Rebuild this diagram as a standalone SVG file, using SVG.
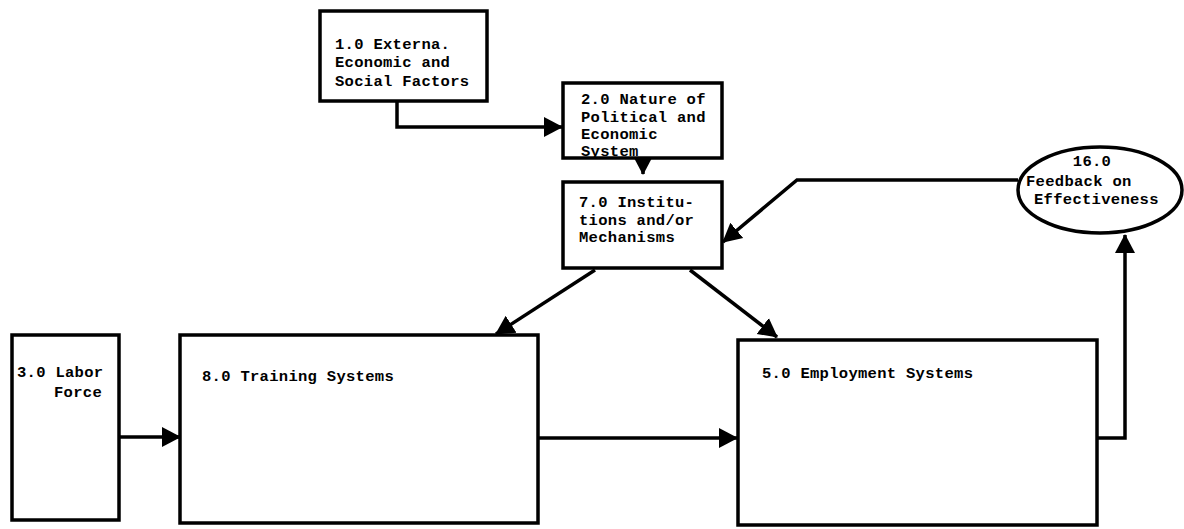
<svg xmlns="http://www.w3.org/2000/svg" width="1184" height="529" viewBox="0 0 1184 529">
<style>
.box{fill:#fff;stroke:#000;stroke-width:3.5}
.t{font-family:"Liberation Mono","DejaVu Sans Mono",monospace;font-weight:bold;font-size:15.5px;letter-spacing:0.3px;fill:#000}
.c{fill:none;stroke:#000;stroke-width:3.5;stroke-linejoin:miter}
</style>
<defs>
<marker id="ah" markerUnits="userSpaceOnUse" markerWidth="22" markerHeight="24" refX="18" refY="11" orient="auto">
<path d="M0,1 L19,11 L0,21 Z" fill="#000"/>
</marker>
</defs>
<rect width="1184" height="529" fill="#fff"/>
<g id="connectors">
<path class="c" d="M397,101 V127 H562" marker-end="url(#ah)"/>
<path class="c" d="M643,158 V174" marker-end="url(#ah)"/>
<path class="c" d="M1018,180 H797 L723,242" marker-end="url(#ah)"/>
<path class="c" d="M595,270 L496,334" marker-end="url(#ah)"/>
<path class="c" d="M690,270 L777,337" marker-end="url(#ah)"/>
<path class="c" d="M119,437 H180" marker-end="url(#ah)"/>
<path class="c" d="M538,438 H737" marker-end="url(#ah)"/>
<path class="c" d="M1096,438 H1125 V235" marker-end="url(#ah)"/>
</g>
<g id="n1">
<rect class="box" x="320" y="11" width="167" height="90"/>
<text class="t" x="335" y="49">1.0 Externa.</text>
<text class="t" x="335" y="67">Economic and</text>
<text class="t" x="335" y="86">Social Factors</text>
</g>
<g id="n2">
<rect class="box" x="563" y="83" width="159" height="75"/>
<text class="t" x="581" y="104">2.0 Nature of</text>
<text class="t" x="581" y="122">Political and</text>
<text class="t" x="581" y="139">Economic</text>
<text class="t" x="581" y="156">System</text>
</g>
<g id="n7">
<rect class="box" x="563" y="182" width="159" height="86"/>
<text class="t" x="579" y="207">7.0 Institu-</text>
<text class="t" x="579" y="225">tions and/or</text>
<text class="t" x="579" y="242">Mechanisms</text>
</g>
<g id="n16">
<ellipse class="box" cx="1100" cy="190" rx="82" ry="43"/>
<text class="t" x="1092" y="166" text-anchor="middle">16.0</text>
<text class="t" x="1026" y="186">Feedback on</text>
<text class="t" x="1034" y="204">Effectiveness</text>
</g>
<g id="n3">
<rect class="box" x="12" y="335" width="107" height="185"/>
<text class="t" x="17" y="377">3.0 Labor</text>
<text class="t" x="54" y="397">Force</text>
</g>
<g id="n8">
<rect class="box" x="180" y="335" width="358" height="188"/>
<text class="t" x="202" y="381">8.0 Training Systems</text>
</g>
<g id="n5">
<rect class="box" x="738" y="340" width="359" height="185"/>
<text class="t" x="762" y="378">5.0 Employment Systems</text>
</g>
</svg>
